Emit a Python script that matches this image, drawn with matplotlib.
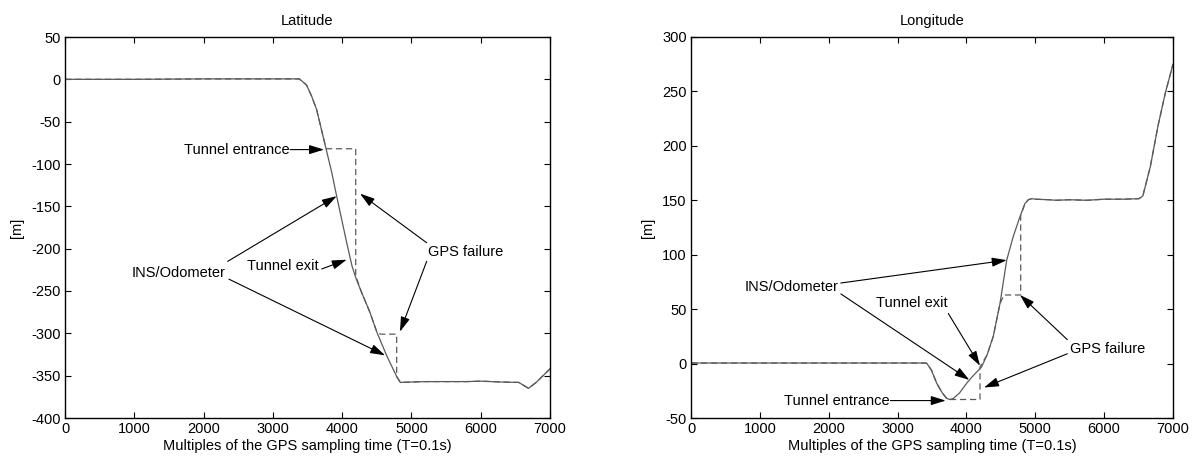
import matplotlib
matplotlib.use("Agg")
import matplotlib.pyplot as plt

plt.rcParams['font.family'] = ['Liberation Sans', 'DejaVu Sans']
plt.rcParams['axes.unicode_minus'] = False

# ---------------- data ----------------
x_ticks = [0, 1000, 2000, 3000, 4000, 5000, 6000, 7000]
lat_yticks = [50, 0, -50, -100, -150, -200, -250, -300, -350, -400]
lon_yticks = [300, 250, 200, 150, 100, 50, 0, -50]

# Latitude - INS/Odometer (solid)
lat_ins_x = [0, 1000, 2000, 2500, 3000, 3380, 3420, 3488, 3560, 3633, 3753, 3850, 3921,
             4000, 4066, 4144, 4200, 4282, 4400, 4503, 4641, 4787, 4840, 5000, 5200, 5500,
             5800, 6000, 6300, 6550, 6690, 6800, 6900, 7000]
lat_ins_y = [0, 0, 0.5, 0.5, 0.5, 0.5, -2, -7, -20, -36, -77, -110, -138,
             -168, -193, -221, -235, -252, -275, -299, -326, -351, -358, -357.5, -357, -357,
             -357, -356.5, -357.5, -358, -365, -358, -350, -342]

# Latitude - GPS (dashed)
lat_gps_x = [0, 1000, 2000, 2500, 3000, 3380, 3420, 3488, 3560, 3633, 3753, 3777,
             4196, 4196, 4282, 4400, 4503, 4556, 4787, 4787, 4840, 5000, 5200, 5500,
             5800, 6000, 6300, 6550, 6690, 6800, 6900, 7000]
lat_gps_y = [0, 0, 0.5, 0.5, 0.5, 0.5, -2, -7, -20, -36, -77, -82,
             -82, -232, -252, -275, -299, -301, -301, -351, -358, -357.5, -357, -357,
             -357, -356.5, -357.5, -358, -365, -358, -350, -342]

# Longitude - INS/Odometer (solid)
lon_ins_x = [0, 1000, 2000, 3000, 3371, 3423, 3492, 3568, 3650, 3713, 3760, 3809, 3900,
             4004, 4100, 4221, 4300, 4390, 4487, 4585, 4681, 4778, 4850, 4899, 4950,
             5000, 5200, 5300, 5500, 5750, 6000, 6300, 6507, 6562, 6671, 6781, 6890, 7000]
lon_ins_y = [0.5, 0.5, 0.5, 0.5, 0.5, 0.3, -6, -18, -27, -32, -33, -32, -27,
             -18, -11, -3, 8, 25, 55, 95, 117, 135, 147, 150.5, 151.5,
             151, 150.5, 150, 150.5, 150, 151, 151, 151.5, 154, 181, 218, 249, 275]

# Longitude - GPS (dashed)
lon_gps_x = [0, 1000, 2000, 3000, 3371, 3423, 3492, 3568, 3650, 3713, 3737,
             4197, 4197, 4300, 4390, 4487, 4546, 4788, 4788, 4850, 4899, 4950,
             5000, 5200, 5300, 5500, 5750, 6000, 6300, 6507, 6562, 6671, 6781, 6890, 7000]
lon_gps_y = [0.5, 0.5, 0.5, 0.5, 0.5, 0.3, -6, -18, -27, -32, -33,
             -33, -3, 8, 25, 55, 63, 63, 136, 147, 150.5, 151.5,
             151, 150.5, 150, 150.5, 150, 151, 151, 151.5, 154, 181, 218, 249, 275]

# Annotation labels (text, x, y, ha)
lat_labels = [("Tunnel entrance", 3243, -83, 'right'),
              ("INS/Odometer", 2320, -229, 'right'),
              ("Tunnel exit", 3663, -221, 'right'),
              ("GPS failure", 5233, -204, 'left')]
# arrows: (start_x, start_y, tip_x, tip_y)
lat_arrows = [(3250, -83, 3738, -83),
              (2348, -215, 3921, -138),
              (2366, -236, 4619, -326),
              (3705, -224, 4066, -213),
              (5220, -193, 4258, -135),
              (5220, -215, 4835, -298)]

lon_labels = [("INS/Odometer", 2149, 70, 'right'),
              ("Tunnel exit", 2686, 56, 'left'),
              ("GPS failure", 5503, 13, 'left'),
              ("Tunnel entrance", 2889, -34, 'right')]
lon_arrows = [(2176, 74, 4585, 95),
              (2176, 64, 4042, -15),
              (3737, 46, 4197, -2),
              (5465, 22, 4778, 63),
              (5465, 9, 4255, -22),
              (2895, -34, 3699, -34)]

# ---------------- plotting ----------------
W, H = 1192, 462
fig = plt.figure(figsize=(W / 100, H / 100), dpi=100)
ax1 = fig.add_axes([65 / W, (H - 418) / H, 485 / W, 381 / H])
ax2 = fig.add_axes([691 / W, (H - 418) / H, 482 / W, 381 / H])

FS = 10.5
line_col = '#5a5a5a'


def setup(ax, title, yticks, ylim, ins_x, ins_y, gps_x, gps_y, labels, arrows):
    ax.plot(gps_x, gps_y, linestyle=(0, (5, 3)), color=line_col, lw=0.9)
    ax.plot(ins_x, ins_y, linestyle='-', color=line_col, lw=0.9)
    ax.set_xlim(0, 7000)
    ax.set_ylim(*ylim)
    ax.set_xticks(x_ticks)
    ax.set_yticks(yticks)
    ax.tick_params(direction='in', top=True, right=True, length=4, width=0.8,
                   labelsize=FS, pad=3)
    for s in ax.spines.values():
        s.set_linewidth(1.0)
    ax.set_title(title, fontsize=FS, pad=8.5)
    ax.set_xlabel("Multiples of the GPS sampling time (T=0.1s)", fontsize=FS, labelpad=2)
    ax.set_ylabel("[m]", fontsize=FS, labelpad=5)
    for t, x, y, ha in labels:
        ax.text(x, y, t, ha=ha, va='center', fontsize=FS)
    for sx, sy, tx, ty in arrows:
        ax.annotate('', xy=(tx, ty), xytext=(sx, sy),
                    arrowprops=dict(arrowstyle='-|>,head_length=0.9,head_width=0.28',
                                    color='black', lw=0.8, shrinkA=0, shrinkB=0))


setup(ax1, "Latitude", lat_yticks, (-400, 50), lat_ins_x, lat_ins_y,
      lat_gps_x, lat_gps_y, lat_labels, lat_arrows)
setup(ax2, "Longitude", lon_yticks, (-50, 300), lon_ins_x, lon_ins_y,
      lon_gps_x, lon_gps_y, lon_labels, lon_arrows)

fig.savefig("out.png", dpi=100)
